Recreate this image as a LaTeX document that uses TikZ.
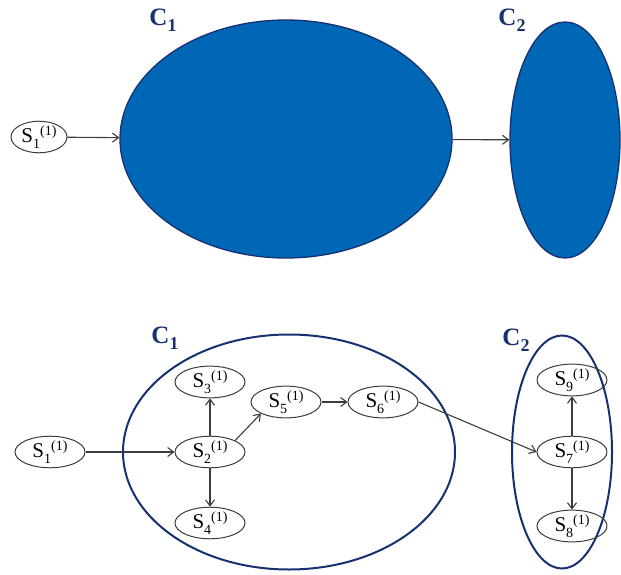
\documentclass[tikz,border=0pt]{standalone}
\usepackage{fontspec}
\setmainfont{Liberation Serif}
\usetikzlibrary{shapes.geometric,arrows.meta}
\definecolor{clblue}{RGB}{0,103,182}
\definecolor{clnavy}{RGB}{22,48,112}
\definecolor{edgegray}{RGB}{60,60,60}
\newcommand{\st}[1]{S\raisebox{-0.28em}{\fontsize{14}{14}\selectfont #1}\raisebox{0.32em}{\fontsize{14}{14}\selectfont (1)}}
\newcommand{\cl}[1]{C\raisebox{-0.25em}{\fontsize{18}{18}\selectfont\bfseries #1}}
\begin{document}
\begin{tikzpicture}[x=1pt, y=-1pt,
    state/.style={ellipse, draw=edgegray, line width=1pt, inner sep=0pt,
      minimum width=70pt, minimum height=28pt, font=\fontsize{21}{24}\selectfont},
    blob/.style={ellipse, draw=clnavy, fill=clblue, line width=1.3pt, inner sep=0pt},
    ring/.style={ellipse, draw=clnavy, line width=2pt, inner sep=0pt},
    clabel/.style={text=clnavy, font=\fontsize{25}{28}\selectfont\bfseries},
    every edge/.style={draw=edgegray, line width=1.1pt},
    >={Straight Barb[length=6pt,width=9pt]}]
    \useasboundingbox (0,0) rectangle (621,575);

    % top row: classes as filled blobs
    \node [state, minimum width=56pt] (t1) at (39,137) {\st{1}};
    \node [blob, minimum width=332pt, minimum height=238pt] (tc1) at (286,139) {};
    \node [blob, minimum width=110pt, minimum height=236pt] (tc2) at (565,140) {};
    \node [clabel] (tl1) at (163,20) {\cl{1}};
    \node [clabel] (tl2) at (512,20) {\cl{2}};

    \path [->] (t1) edge (tc1);
    \path [->] (tc1) edge (tc2);

    % bottom row: classes opened up
    \node [ring, minimum width=332pt, minimum height=235pt] (c1) at (289,452) {};
    \node [ring, minimum width=100pt, minimum height=233pt] (c2) at (562,452) {};
    \node [clabel] (l1) at (165,338) {\cl{1}};
    \node [clabel] (l2) at (516,340) {\cl{2}};

    \node [state] (s1) at (50,452) {\st{1}};
    \node [state] (s2) at (210,452) {\st{2}};
    \node [state] (s3) at (210,382) {\st{3}};
    \node [state] (s4) at (210,523) {\st{4}};
    \node [state] (s5) at (286,402) {\st{5}};
    \node [state] (s6) at (383,402) {\st{6}};
    \node [state] (s7) at (572,452) {\st{7}};
    \node [state] (s9) at (572,380) {\st{9}};
    \node [state] (s8) at (572,526) {\st{8}};

    \path [->] (s1) edge (s2);
    \path [->] (s2) edge (s3);
    \path [->] (s2) edge (s4);
    \path [->] (s2.north east) edge (s5.south west);

    \path [->] (s5) edge (s6);
    \path [->] (s6.east) edge (s7.west);

    \path [->] (s7) edge (s9);
    \path [->] (s7) edge (s8);

  \end{tikzpicture}
\end{document}
